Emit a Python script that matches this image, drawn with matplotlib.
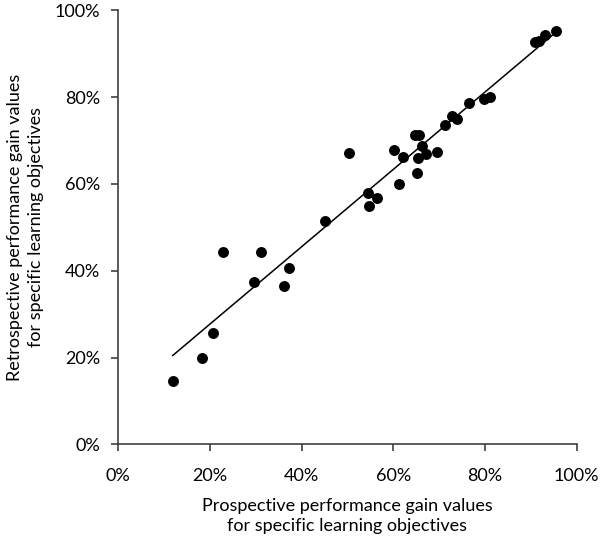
"""
Prospective vs retrospective performance gain, with linear trend line
"""
import numpy as np
import matplotlib
matplotlib.use("Agg")
from matplotlib import pyplot as plt
from matplotlib.ticker import PercentFormatter

plt.rcParams['font.family'] = ['Lato', 'DejaVu Sans']

# prospective (x) and retrospective (y) gain values, in percent
prospective = [11.9, 18.3, 20.7, 22.9, 31.1, 29.7, 37.3, 36.2, 45.1, 50.3,
               54.7, 54.4, 56.4, 61.2, 60.2, 62.2, 65.2, 64.8, 65.6, 66.3,
               65.5, 67.1, 69.5, 71.3, 72.8, 73.9, 76.5, 79.9, 81.1, 91.0,
               91.8, 93.1, 95.4]
retrospective = [14.7, 20.0, 25.6, 44.2, 44.2, 37.5, 40.7, 36.5, 51.4, 67.1,
                 54.9, 58.0, 56.7, 59.9, 67.9, 66.2, 62.4, 71.2, 71.3, 68.8,
                 66.0, 66.9, 67.4, 73.5, 75.6, 74.9, 78.7, 79.6, 80.0, 92.7,
                 92.9, 94.2, 95.2]

X = np.array(prospective)
Y = np.array(retrospective)

fig = plt.figure(figsize=(6, 5.36), dpi=100)
ax = fig.add_axes([0.197, 0.171, 0.764, 0.81])

fit = np.polyfit(X, Y, 1)
x = np.linspace(X.min(), X.max(), 100)
ax.plot(x, fit[0] * x + fit[1], color='black', lw=1.1, zorder=2)
ax.scatter(X, Y, s=62, color='black', zorder=3, linewidths=0)

ax.set_xlim(0, 100)
ax.set_ylim(0, 100)
ax.set_xticks(range(0, 101, 20))
ax.set_yticks(range(0, 101, 20))
ax.xaxis.set_major_formatter(PercentFormatter(decimals=0))
ax.yaxis.set_major_formatter(PercentFormatter(decimals=0))

for side in ['top', 'right']:
    ax.spines[side].set_visible(False)
for side in ['left', 'bottom']:
    ax.spines[side].set_color('#404040')
    ax.spines[side].set_linewidth(1.2)
ax.tick_params(direction='out', length=5, width=1.2, color='#404040',
               labelsize=13, pad=8)
ax.tick_params(axis='x', pad=12)

ax.set_xlabel("Prospective performance gain values\nfor specific learning objectives",
              fontsize=13, labelpad=10, linespacing=1.35)
ax.set_ylabel("Retrospective performance gain values\nfor specific learning objectives",
              fontsize=13, labelpad=8, linespacing=1.35)

fig.savefig("out.png", dpi=100)
